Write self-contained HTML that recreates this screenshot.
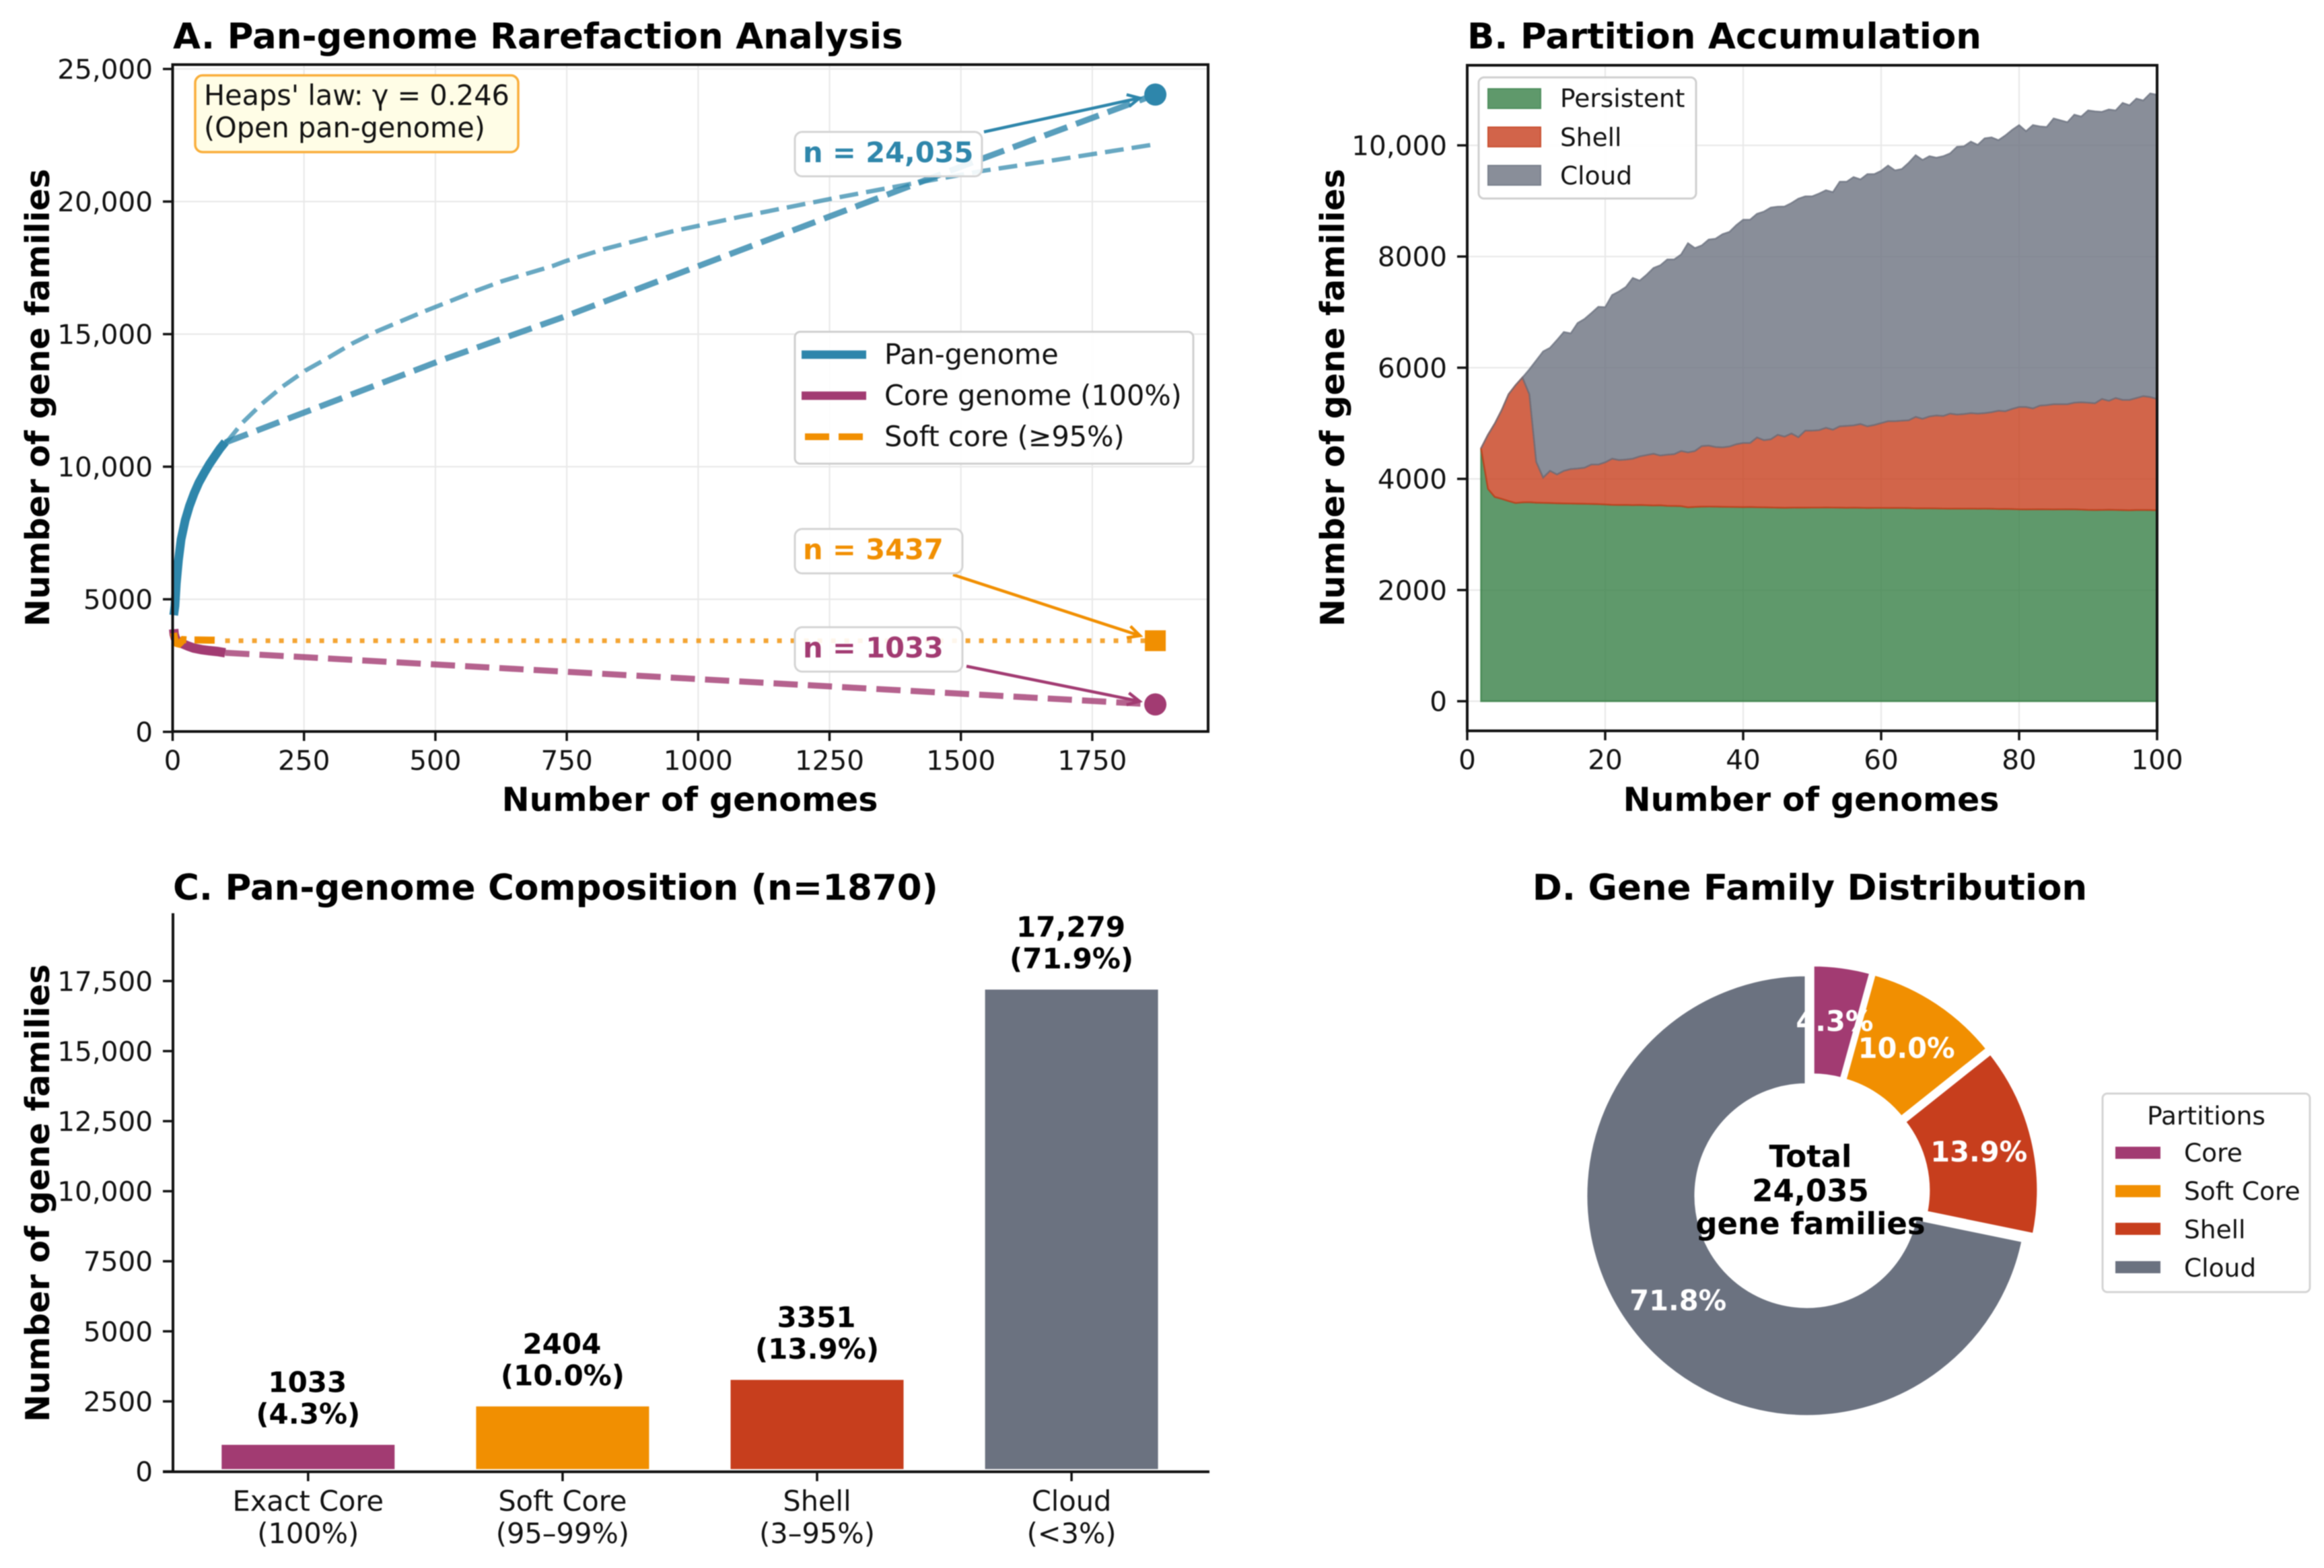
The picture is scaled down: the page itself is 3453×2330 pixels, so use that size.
<!DOCTYPE html>
<html lang="en">
<head>
<meta charset="utf-8">
<title>Pan-genome analysis figure</title>
<style>
html,body{margin:0;padding:0;background:#fff;}
svg{display:block;font-family:"DejaVu Sans","Liberation Sans",sans-serif;filter:blur(0.7px);}
.title{font-size:53px;font-weight:700;fill:#000;}
.axis-label{font-size:49px;font-weight:700;fill:#000;}
.tick{font-size:40.5px;fill:#111;}
.tick-c{font-size:41.5px;fill:#111;}
.leg-a{font-size:41.4px;fill:#111;}
.leg-b{font-size:37.5px;fill:#111;}
.ann{font-size:41.5px;font-weight:700;}
</style>
</head>
<body>
<svg id="figure" xmlns="http://www.w3.org/2000/svg" width="3453" height="2330" viewBox="0 0 3453 2330">
<rect x="0" y="0" width="3453" height="2330" fill="#fff"/>

<g id="panel-a">
  <text class="title" x="257" y="72">A. Pan-genome Rarefaction Analysis</text>
  <g id="a-grid"></g>
  <g id="a-marks"></g>
  <rect x="256.5" y="96" width="1538.5" height="991" fill="none" stroke="#111" stroke-width="4"/>
  <g id="a-ticks"></g>
  <text class="axis-label" x="1025" y="1205" text-anchor="middle">Number of genomes</text>
  <text class="axis-label" text-anchor="middle" transform="translate(73 591) rotate(-90)">Number of gene families</text>
  <g>
    <rect x="290" y="112" width="480" height="114" rx="11" fill="#fffde6" stroke="#f9ae3a" stroke-width="3.5"/>
    <text class="leg-a" x="303" y="156">Heaps' law: γ = 0.246</text>
    <text class="leg-a" x="303" y="204">(Open pan-genome)</text>
  </g>
  <g>
    <rect x="1181" y="493" width="592" height="196" rx="8" fill="#fff" fill-opacity="0.9" stroke="#cfcfcf" stroke-width="3"/>
    <line x1="1191" x2="1287" y1="527" y2="527" stroke="#2E86AB" stroke-width="12.5"/>
    <text class="leg-a" x="1314" y="541">Pan-genome</text>
    <line x1="1191" x2="1287" y1="588" y2="588" stroke="#A23B72" stroke-width="12.5"/>
    <text class="leg-a" x="1314" y="602">Core genome (100%)</text>
    <line x1="1196" x2="1282" y1="649" y2="649" stroke="#F18F01" stroke-width="10" stroke-dasharray="36 14"/>
    <text class="leg-a" x="1314" y="663">Soft core (≥95%)</text>
  </g>
</g>

<g id="panel-b">
  <text class="title" x="2180" y="72">B. Partition Accumulation</text>
  <g id="b-grid"></g>
  <g id="b-marks"></g>
  <rect x="2180" y="97" width="1025" height="989" fill="none" stroke="#111" stroke-width="4"/>
  <g id="b-ticks"></g>
  <text class="axis-label" x="2691" y="1205" text-anchor="middle">Number of genomes</text>
  <text class="axis-label" text-anchor="middle" transform="translate(1997 591) rotate(-90)">Number of gene families</text>
  <g>
    <rect x="2197" y="115" width="323" height="180" rx="8" fill="#fff" fill-opacity="0.9" stroke="#cfcfcf" stroke-width="3"/>
    <rect x="2211" y="132" width="78" height="29" fill="#5F996B" stroke="#4f8f5e" stroke-width="2"/>
    <text class="leg-b" x="2318" y="159">Persistent</text>
    <rect x="2211" y="189" width="78" height="29" fill="#D2644A" stroke="#c94f30" stroke-width="2"/>
    <text class="leg-b" x="2318" y="217">Shell</text>
    <rect x="2211" y="246" width="78" height="29" fill="#898E99" stroke="#7a808c" stroke-width="2"/>
    <text class="leg-b" x="2318" y="274">Cloud</text>
  </g>
</g>

<g id="panel-c">
  <text class="title" x="257" y="1337">C. Pan-genome Composition (n=1870)</text>
  <g id="c-marks"></g>
  <line x1="257" x2="257" y1="1357" y2="2187" stroke="#111" stroke-width="4"/>
  <line x1="242" x2="1797" y1="2187" y2="2187" stroke="#111" stroke-width="4"/>
  <g id="c-ticks"></g>
  <text class="axis-label" text-anchor="middle" transform="translate(73 1773) rotate(-90)">Number of gene families</text>
</g>

<g id="panel-d">
  <text class="title" x="2689" y="1337" text-anchor="middle">D. Gene Family Distribution</text>
  <g id="d-marks"></g>
  <g font-size="45" font-weight="700" text-anchor="middle" fill="#000">
    <text x="2690" y="1734">Total</text>
    <text x="2690" y="1785">24,035</text>
    <text x="2690" y="1834">gene families</text>
  </g>
  <g>
    <rect x="3124" y="1625" width="308" height="295" rx="7" fill="#fff" stroke="#d4d4d4" stroke-width="3"/>
    <text class="leg-b" x="3278" y="1671" text-anchor="middle">Partitions</text>
    <rect x="3143" y="1704" width="67" height="18" fill="#A23B72"/>
    <text class="leg-b" x="3245" y="1726">Core</text>
    <rect x="3143" y="1761" width="67" height="18" fill="#F18F01"/>
    <text class="leg-b" x="3245" y="1783">Soft Core</text>
    <rect x="3143" y="1817" width="67" height="18" fill="#C73E1D"/>
    <text class="leg-b" x="3245" y="1840">Shell</text>
    <rect x="3143" y="1874" width="67" height="18" fill="#6B7280"/>
    <text class="leg-b" x="3245" y="1897">Cloud</text>
  </g>
</g>
</svg>

<script>
// ---- Sampled genome counts for panel B ----
const genomes = [2,3,4,5,6,7,8,9,10,
11,12,13,14,15,16,17,18,19,20,
21,22,23,24,25,26,27,28,29,30,
31,32,33,34,35,36,37,38,39,40,
41,42,43,44,45,46,47,48,49,50,
51,52,53,54,55,56,57,58,59,60,
61,62,63,64,65,66,67,68,69,70,
71,72,73,74,75,76,77,78,79,80,
81,82,83,84,85,86,87,88,89,90,
91,92,93,94,95,96,97,98,99,100];

// Top edge of each stacked band in panel B.
const persistentTop = [4550,3820,3674,3640,3600,3565,3578,3580,3572,
3568,3565,3560,3558,3556,3553,3552,3548,3546,3540,
3532,3530,3532,3528,3530,3526,3522,3524,3515,3512,
3510,3488,3496,3500,3502,3500,3498,3496,3494,3492,
3494,3490,3488,3486,3482,3480,3482,3484,3482,3484,
3484,3486,3484,3482,3480,3482,3480,3476,3478,3478,
3476,3478,3476,3474,3470,3472,3470,3468,3466,3464,
3466,3464,3466,3462,3464,3462,3458,3460,3456,3452,
3450,3452,3454,3452,3450,3452,3454,3452,3448,3442,
3440,3442,3444,3442,3438,3436,3440,3440,3438,3436];
const shellTop = [4550,4793,4996,5240,5523,5685,5823,5523,4307,
4023,4144,4080,4144,4177,4185,4201,4258,4258,4298,
4363,4339,4347,4363,4404,4428,4452,4420,4436,4444,
4501,4477,4501,4590,4599,4574,4566,4582,4623,4647,
4647,4745,4696,4712,4793,4760,4817,4749,4868,4868,
4877,4919,4885,4945,4953,4962,4987,4945,4970,5004,
5038,5038,5047,5055,5115,5081,5123,5140,5132,5174,
5157,5166,5183,5174,5183,5200,5225,5217,5259,5293,
5293,5268,5319,5327,5344,5344,5344,5370,5378,5370,
5361,5438,5404,5455,5421,5421,5455,5489,5472,5438];
const totalFamilies = [4550,4793,4996,5240,5523,5685,5823,5970,6130,
6293,6358,6496,6642,6618,6804,6877,6983,7096,7088,
7307,7372,7453,7615,7567,7672,7794,7843,7948,7948,
8037,8240,8151,8200,8305,8321,8402,8443,8564,8662,
8662,8767,8808,8880,8897,8900,8963,9040,9082,9082,
9133,9193,9159,9346,9346,9430,9388,9482,9482,9541,
9635,9550,9575,9686,9822,9737,9805,9779,9805,9856,
9974,9983,10068,10008,10127,10144,10093,10178,10280,10365,
10255,10365,10340,10331,10484,10450,10416,10552,10518,10628,
10611,10603,10645,10628,10764,10722,10841,10807,10935,10909];

// ---- Panel A ----
const aXTicks = [0,250,500,750,1000,1250,1500,1750];
const aYTicks = [0,5000,10000,15000,20000,25000];
const aYTickLabels = ['0','5000','10,000','15,000','20,000','25,000'];
const panGenomes = [2,4.5,7,11,16,24,32,41,50,60,70,81,90,100];
const panFamilies = [4400,4759,5600,6460,7250,7982,8520,8997,9400,9760,10100,10420,10680,10930];
const coreGenomes = [2,3,5,8,12,20,30,40,55,70,85,100];
const coreFamilies = [3870,3680,3540,3440,3380,3312,3230,3160,3100,3060,3030,2982];
const softGenomes = [2,3,5,8,12,16,20,30,40,50,60,70,80];
const softFamilies = [3730,3600,3430,3330,3310,3380,3480,3465,3465,3465,3462,3460,3458];
const panExtrapGenomes = [100,519,747,1212,1538,1870];
const panExtrapFamilies = [10909,14070,15670,19150,21600,24035];
const coreExtrapGenomes = [100,951,1870];
const coreExtrapFamilies = [2982,2044,1033];
const softExtrapGenomes = [100,1870];
const softExtrapFamilies = [3437,3437];
const heapsGenomes = [100,107,133,168,209,252,297,342,389,436,482,530,578,626,674,724,747,820,952,1081,1258,1356,1539,1671,1870];
const heapsFamilies = [10909,11027,11660,12340,13020,13620,14120,14650,15110,15503,15882,16260,16640,16990,17280,17575,17750,18200,18880,19430,20125,20490,21150,21540,22160];
const finalGenomes = 1870;
const finalPan = 24035;
const finalSoft = 3437;
const finalCore = 1033;

// ---- Panel B ----
const bXTicks = [0,20,40,60,80,100];
const bYTicks = [0,2000,4000,6000,8000,10000];
const bYTickLabels = ['0','2000','4000','6000','8000','10,000'];

// ---- Panel C ----
const barCategories = ['Exact Core','Soft Core','Shell','Cloud'];
const barRanges = ['(100%)','(95–99%)','(3–95%)','(<3%)'];
const barValues = [1033,2404,3351,17279];
const barValueLabels = ['1033','2404','3351','17,279'];
const barPercentLabels = ['(4.3%)','(10.0%)','(13.9%)','(71.9%)'];
const cYTicks = [0,2500,5000,7500,10000,12500,15000,17500];
const cYTickLabels = ['0','2500','5000','7500','10,000','12,500','15,000','17,500'];

// ---- Panel D ----
const donutNames = ['Core','Soft Core','Shell','Cloud'];
const donutValues = [1033,2404,3351,17247];

// ---- Axis functions ----
const xA = v => 256.5 + v * 0.7808;
const yA = v => 1087.5 - v * 0.0394;
const xB = v => 2180 + v * 10.25;
const yB = v => 1042 - v * 0.0826;
const xC = i => 457.8 + i * 378.1;
const yC = v => 2186.5 - v * 0.04164;

const SVGNS = 'http://www.w3.org/2000/svg';
function mk(tag, attrs, parent, txt) {
  const el = document.createElementNS(SVGNS, tag);
  for (const k in attrs) el.setAttribute(k, attrs[k]);
  if (txt !== undefined) el.textContent = txt;
  parent.appendChild(el);
  return el;
}
function pts(xs, ys, fx, fy) {
  return xs.map((x, i) => fx(x).toFixed(1) + ',' + fy(ys[i]).toFixed(1)).join(' ');
}
function gridX(parent, ticks, fx, y0, y1, panel) {
  ticks.forEach(t => {
    const g = mk('line', {x1: fx(t), x2: fx(t), y1: y0, y2: y1, stroke: '#e9e9e9', 'stroke-width': 2.2}, parent);
    
    
  });
}
function gridY(parent, ticks, fy, x0, x1, panel) {
  ticks.forEach(t => {
    const g = mk('line', {x1: x0, x2: x1, y1: fy(t), y2: fy(t), stroke: '#e9e9e9', 'stroke-width': 2.2}, parent);
    
    
  });
}
function ticksY(parent, ticks, labels, fy, axisX, panel) {
  ticks.forEach((t, i) => {
    const tick = mk('line', {x1: axisX - 15, x2: axisX, y1: fy(t), y2: fy(t), stroke: '#111', 'stroke-width': 3.5}, parent);
    
    
    const lab = mk('text', {class: 'tick', x: axisX - 30, y: fy(t) + 14.5, 'text-anchor': 'end'}, parent, labels[i]);
    
    
  });
}
function ticksX(parent, ticks, fx, axisY, panel) {
  ticks.forEach(t => {
    const tick = mk('line', {x1: fx(t), x2: fx(t), y1: axisY, y2: axisY + 14, stroke: '#111', 'stroke-width': 3.5}, parent);
    
    
    const lab = mk('text', {class: 'tick', x: fx(t), y: axisY + 57, 'text-anchor': 'middle'}, parent, String(t));
    
    
  });
}
const $ = id => document.getElementById(id);

// ---------- Panel A ----------
(function () {
  gridX($('a-grid'), aXTicks.slice(1), xA, 96, 1087, 'panel-a');
  gridY($('a-grid'), aYTicks.slice(1), yA, 257, 1795, 'panel-a');
  ticksX($('a-ticks'), aXTicks, xA, 1087, 'panel-a');
  ticksY($('a-ticks'), aYTicks, aYTickLabels, yA, 257, 'panel-a');
  const m = $('a-marks');

  const panExt = mk('polyline', {points: pts(panExtrapGenomes, panExtrapFamilies, xA, yA), fill: 'none', stroke: '#2E86AB', 'stroke-width': 9, 'stroke-dasharray': '36 14', 'stroke-opacity': 0.8}, m);
  
  
  const heaps = mk('polyline', {points: pts(heapsGenomes, heapsFamilies, xA, yA), fill: 'none', stroke: '#2E86AB', 'stroke-width': 6.5, 'stroke-dasharray': '28 12', 'stroke-opacity': 0.72}, m);
  
  
  const coreExt = mk('polyline', {points: pts(coreExtrapGenomes, coreExtrapFamilies, xA, yA), fill: 'none', stroke: '#A23B72', 'stroke-width': 9, 'stroke-dasharray': '36 15', 'stroke-opacity': 0.8}, m);
  
  
  const softExt = mk('polyline', {points: pts(softExtrapGenomes, softExtrapFamilies, xA, yA), fill: 'none', stroke: '#F18F01', 'stroke-width': 7, 'stroke-dasharray': '7 13', 'stroke-opacity': 0.8}, m);
  
  

  const pan = mk('polyline', {points: pts(panGenomes, panFamilies, xA, yA), fill: 'none', stroke: '#2E86AB', 'stroke-width': 13}, m);
  
  
  const core = mk('polyline', {points: pts(coreGenomes, coreFamilies, xA, yA), fill: 'none', stroke: '#A23B72', 'stroke-width': 14}, m);
  
  
  const soft = mk('polyline', {points: pts(softGenomes, softFamilies, xA, yA), fill: 'none', stroke: '#F18F01', 'stroke-width': 10.5, 'stroke-dasharray': '34 12 33 300'}, m);
  
  

  const panDot = mk('circle', {cx: xA(finalGenomes), cy: yA(finalPan), r: 16.5, fill: '#2E86AB'}, m);
  
  
  const softSq = mk('rect', {x: xA(finalGenomes) - 15.5, y: yA(finalSoft) - 15.5, width: 31, height: 31, fill: '#F18F01'}, m);
  
  
  const coreDot = mk('circle', {cx: xA(finalGenomes), cy: yA(finalCore), r: 16.5, fill: '#A23B72'}, m);
  
  

  function arrow(sx, sy, value, color, name) {
    const tx = xA(finalGenomes), ty = yA(value);
    const d = Math.hypot(tx - sx, ty - sy), ux = (tx - sx) / d, uy = (ty - sy) / d;
    const ex = tx - ux * 24, ey = ty - uy * 24, h = 20;
    const c = 0.89, s = 0.45;
    const ax = ex - h * (ux * c - uy * s), ay = ey - h * (uy * c + ux * s);
    const bx = ex - h * (ux * c + uy * s), by = ey - h * (uy * c - ux * s);
    const path = mk('path', {d: 'M' + sx + ' ' + sy + 'L' + ex + ' ' + ey + 'M' + ax + ' ' + ay + 'L' + ex + ' ' + ey + 'L' + bx + ' ' + by, fill: 'none', stroke: color, 'stroke-width': 4.5}, m);
    
    
  }
  arrow(1462, 196, finalPan, '#2E86AB', 'pan-genome-arrow');
  arrow(1416, 854, finalSoft, '#F18F01', 'soft-core-arrow');
  arrow(1436, 990, finalCore, '#A23B72', 'core-genome-arrow');

  function callout(y, h, w, base, text, color, name) {
    const box = mk('rect', {x: 1181, y: y, width: w, height: h, rx: 11, fill: '#fff', 'fill-opacity': 0.9, stroke: '#d4d4d4', 'stroke-width': 3}, m);
    
    
    const t = mk('text', {class: 'ann', x: 1193, y: base, fill: color}, m, text);
    
    
  }
  callout(196, 66, 278, 241, 'n = ' + finalPan.toLocaleString('en-US'), '#2E86AB', 'pan-genome-callout');
  callout(786, 66, 249, 831, 'n = ' + finalSoft, '#F18F01', 'soft-core-callout');
  callout(932, 66, 249, 977, 'n = ' + finalCore, '#A23B72', 'core-genome-callout');
})();

// ---------- Panel B ----------
(function () {
  gridX($('b-grid'), bXTicks.slice(1, 5), xB, 97, 1086, 'panel-b');
  gridY($('b-grid'), bYTicks, yB, 2180, 3205, 'panel-b');
  ticksX($('b-ticks'), bXTicks, xB, 1086, 'panel-b');
  ticksY($('b-ticks'), bYTicks, bYTickLabels, yB, 2180, 'panel-b');
  const m = $('b-marks');
  const zeros = genomes.map(() => 0);
  function band(upper, lower, fill, name) {
    const top = pts(genomes, upper, xB, yB);
    const bottom = pts(genomes.slice().reverse(), lower.slice().reverse(), xB, yB);
    const poly = mk('polygon', {points: top + ' ' + bottom, fill: fill, 'fill-opacity': 0.8, stroke: fill, 'stroke-opacity': 0.8, 'stroke-width': 2.5}, m);
    
    
  }
  band(persistentTop, zeros, '#377F46', 'persistent-area');
  band(shellTop, persistentTop, '#C73E1D', 'shell-area');
  band(totalFamilies, shellTop, '#6B7280', 'cloud-area');
})();

// ---------- Panel C ----------
(function () {
  const m = $('c-marks');
  const colors = ['#A23B72', '#F18F01', '#C73E1D', '#6B7280'];
  ticksY($('c-ticks'), cYTicks, cYTickLabels, yC, 257, 'panel-c');
  barValues.forEach((v, i) => {
    const cx = xC(i), w = 264;
    const bar = mk('rect', {x: cx - w / 2, y: yC(v), width: w, height: yC(0) - yC(v), fill: colors[i], stroke: '#fff', 'stroke-width': 7}, m);
    
    
    const a = mk('text', {x: cx - 1, y: yC(v) - 75, 'text-anchor': 'middle', 'font-size': 42, 'font-weight': 700, fill: '#000'}, m, barValueLabels[i]);
    
    
    const b = mk('text', {x: cx, y: yC(v) - 28, 'text-anchor': 'middle', 'font-size': 42, 'font-weight': 700, fill: '#000'}, m, barPercentLabels[i]);
    
    
    const tk = mk('line', {x1: cx, x2: cx, y1: 2187, y2: 2201, stroke: '#111', 'stroke-width': 3.5}, $('c-ticks'));
    
    
    const l1 = mk('text', {class: 'tick-c', x: cx, y: 2245, 'text-anchor': 'middle'}, $('c-ticks'), barCategories[i]);
    
    
    const l2 = mk('text', {class: 'tick-c', x: cx, y: 2293, 'text-anchor': 'middle'}, $('c-ticks'), barRanges[i]);
    
    
  });
})();

// ---------- Panel D ----------
(function () {
  const m = $('d-marks');
  const colors = ['#A23B72', '#F18F01', '#C73E1D', '#6B7280'];
  const cx = 2691.5, cy = 1771, R = 329, r = 164, explode = 9;
  const sum = donutValues.reduce((a, b) => a + b, 0);
  let acc = 0;
  const labels = [];
  donutValues.forEach((v, i) => {
    const a0 = acc / sum * 2 * Math.PI, a1 = (acc + v) / sum * 2 * Math.PI, mid = (a0 + a1) / 2;
    acc += v;
    const ox = cx + explode * Math.sin(mid), oy = cy - explode * Math.cos(mid);
    const p = (rad, a) => (ox + rad * Math.sin(a)).toFixed(1) + ' ' + (oy - rad * Math.cos(a)).toFixed(1);
    const big = (a1 - a0) > Math.PI ? 1 : 0;
    const d = 'M' + p(r, a0) + 'L' + p(R, a0) + 'A' + R + ' ' + R + ' 0 ' + big + ' 1 ' + p(R, a1) +
              'L' + p(r, a1) + 'A' + r + ' ' + r + ' 0 ' + big + ' 0 ' + p(r, a0) + 'Z';
    const wedge = mk('path', {d: d, fill: colors[i], stroke: '#fff', 'stroke-width': 6}, m);
    
    
    labels.push([ox + 0.75 * R * Math.sin(mid), oy - 0.75 * R * Math.cos(mid), (v / sum * 100).toFixed(1) + '%', donutNames[i]]);
  });
  labels.forEach(l => {
    const t = mk('text', {x: l[0], y: l[1] + 14.5, 'text-anchor': 'middle', 'font-size': 41.5, 'font-weight': 700, fill: '#fff'}, m, l[2]);
    
    
  });
})();
</script>
</body>
</html>
